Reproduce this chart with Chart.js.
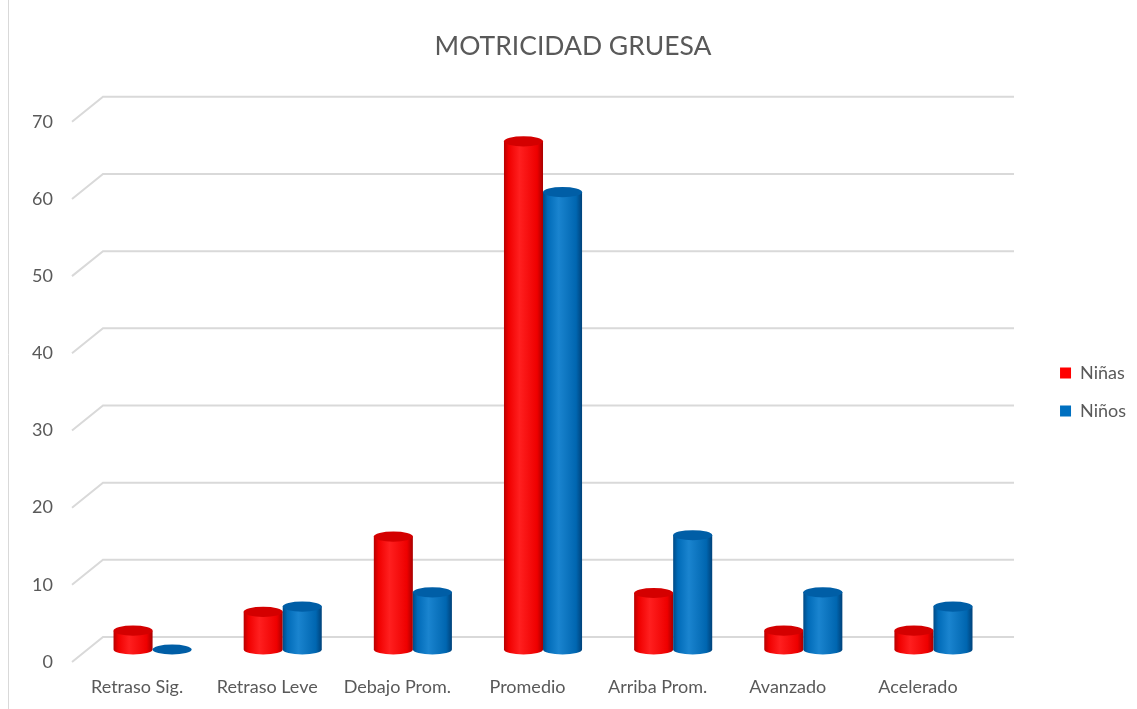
<!DOCTYPE html>
<html>
<head>
<meta charset="utf-8">
<script src="https://cdn.jsdelivr.net/npm/chart.js@4"></script>
<style>
  html, body { margin: 0; padding: 0; background: #fff; }
  #wrap { width: 1137px; height: 709px; }
</style>
</head>
<body>
<div id="wrap"><canvas id="myChart"></canvas></div>
<script>
const categories = ['Retraso Sig.', 'Retraso Leve', 'Debajo Prom.', 'Promedio', 'Arriba Prom.', 'Avanzado', 'Acelerado']
const ninas = [2.44, 4.88, 14.63, 65.85, 7.32, 2.44, 2.44]
const ninos = [0, 5.56, 7.41, 59.26, 14.81, 7.41, 5.56]
const seriesNames = ['Niñas', 'Niños']

const textColor = '#595959'
const gridColor = '#d9d9d9'
// depth of the 3D floor / wall
const depthX = 31, depthY = -25

const colors = {
    red: { flat: '#ff0000', top: '#d40000', stops: ['#b80000', '#f00000', '#ff1f1f', '#ee0000', '#a80000'] },
    blue: { flat: '#0070c0', top: '#005ea6', stops: ['#004a86', '#006bb8', '#1a84cf', '#0066b0', '#00427a'] }
}

// slanted gridlines like the excel 3D wall
const wallGrid = {
    id: 'wallGrid',
    beforeDatasetsDraw(chart) {
        const { ctx, chartArea, scales } = chart
        ctx.save()
        ctx.strokeStyle = gridColor
        ctx.lineWidth = 2
        scales.y.ticks.forEach((t) => {
            const y = scales.y.getPixelForValue(t.value)
            ctx.beginPath()
            ctx.moveTo(chartArea.left, y)
            ctx.lineTo(chartArea.left + depthX, y + depthY)
            ctx.lineTo(chartArea.right + depthX, y + depthY)
            ctx.stroke()
        })
        // thin frame on the left
        ctx.strokeStyle = '#d9d9d9'
        ctx.lineWidth = 1
        ctx.beginPath()
        ctx.moveTo(8.5, 0)
        ctx.lineTo(8.5, chart.height)
        ctx.stroke()
        ctx.restore()
    }
}

// cylinders drawn at mid depth from the bar elements
const cylinders = {
    id: 'cylinders',
    beforeDatasetDraw() {
        return false
    },
    afterDatasetsDraw(chart) {
        const ctx = chart.ctx
        const dx = depthX / 2, dy = depthY / 2
        ctx.save()
        chart.data.datasets.forEach((ds, i) => {
            const c = i === 0 ? colors.red : colors.blue
            chart.getDatasetMeta(i).data.forEach((bar) => {
                const cx = bar.x + dx
                const w = bar.width
                const rx = w / 2
                const ry = w * 0.13
                const top = bar.y + dy
                const base = bar.base + dy
                const left = cx - rx
                if (base - top > 0.5) {
                    const g = ctx.createLinearGradient(left, 0, left + w, 0)
                    g.addColorStop(0, c.stops[0])
                    g.addColorStop(0.12, c.stops[1])
                    g.addColorStop(0.4, c.stops[2])
                    g.addColorStop(0.85, c.stops[3])
                    g.addColorStop(1, c.stops[4])
                    ctx.fillStyle = g
                    ctx.beginPath()
                    ctx.moveTo(left, top)
                    ctx.lineTo(left, base)
                    ctx.ellipse(cx, base, rx, ry, 0, Math.PI, 0, true)
                    ctx.lineTo(left + w, top)
                    ctx.closePath()
                    ctx.fill()
                }
                ctx.fillStyle = c.top
                ctx.beginPath()
                ctx.ellipse(cx, top, rx, ry, 0, 0, Math.PI * 2)
                ctx.fill()
            })
        })
        ctx.restore()
    }
}

const chart = new Chart(document.querySelector('#myChart'), {
    type: 'bar',
    data: {
        labels: categories,
        datasets: [
            { label: seriesNames[0], data: ninas, backgroundColor: colors.red.flat, categoryPercentage: 0.6, barPercentage: 1 },
            { label: seriesNames[1], data: ninos, backgroundColor: colors.blue.flat, categoryPercentage: 0.6, barPercentage: 1 }
        ]
    },
    options: {
        responsive: true,
        maintainAspectRatio: false,
        animation: false,
        layout: { padding: { left: 10, right: 1, top: 0, bottom: 0 } },
        plugins: {
            title: {
                display: true,
                text: 'MOTRICIDAD GRUESA',
                color: textColor,
                font: { family: 'Lato', size: 26.5, weight: 'normal' },
                padding: { top: 31, bottom: 59 }
            },
            legend: {
                position: 'right',
                fullSize: false,
                labels: {
                    color: textColor,
                    font: { family: 'Lato', size: 18 },
                    boxWidth: 11,
                    boxHeight: 11,
                    padding: 20
                }
            },
            tooltip: { enabled: false }
        },
        scales: {
            x: {
                grid: { display: false, drawTicks: false },
                border: { display: false },
                ticks: { color: textColor, font: { family: 'Lato', size: 18 }, padding: 14, maxRotation: 0 },
                afterFit: (s) => { s.height = 47 }
            },
            y: {
                min: 0,
                max: 70,
                grid: { display: false, drawTicks: false },
                border: { display: false },
                ticks: { stepSize: 10, color: textColor, font: { family: 'Lato', size: 18 }, padding: 19 },
                afterFit: (s) => { s.width = 62 }
            },
            spacer: {
                position: 'right',
                display: true,
                grid: { display: false, drawTicks: false },
                border: { display: false },
                ticks: { display: false },
                afterFit: (s) => { s.width = 57 }
            }
        }
    },
    plugins: [wallGrid, cylinders]
})
</script>
</body>
</html>
